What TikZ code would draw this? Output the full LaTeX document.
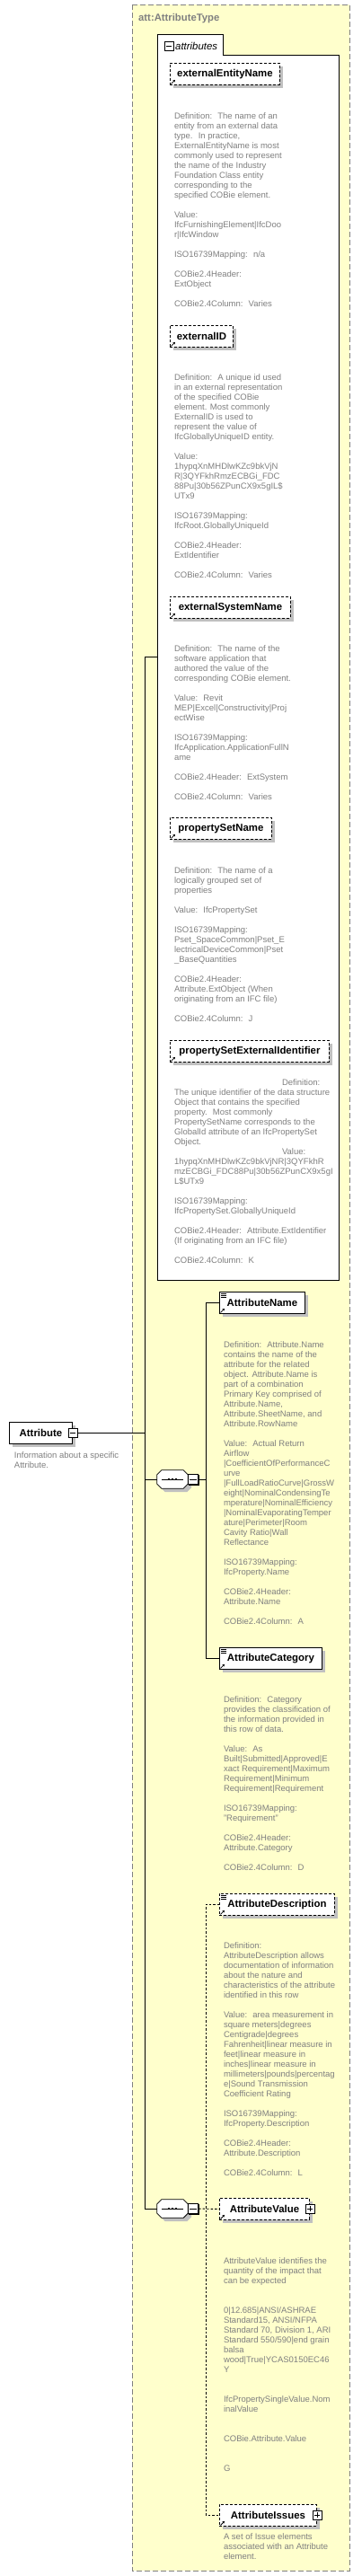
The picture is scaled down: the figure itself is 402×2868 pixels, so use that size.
\documentclass[tikz,border=0pt]{standalone}
\usepackage{fontspec}
\setmainfont{Liberation Sans}
\usetikzlibrary{shadows,arrows.meta}
\definecolor{bgyellow}{RGB}{255,255,204}
\definecolor{desccol}{RGB}{128,128,128}
\definecolor{shcol}{RGB}{192,192,192}
\definecolor{framecol}{RGB}{128,128,128}
\newcommand\dtext[1]{\begin{tabular}[t]{@{}l@{}}#1\end{tabular}}
\newcommand\descfont{\fontsize{9.5}{11}\selectfont}
\newcommand\elemfont{\fontsize{11.4}{13}\selectfont\bfseries}
\newcommand\refarrow[1]{\draw[line width=0.8pt,-{Stealth[length=2.5pt,width=2.8pt]}] ([xshift=1.5pt,yshift=1.5pt]#1.south west) -- ++(4.5,-4.5);}
\newcommand\listicon[1]{\foreach \k in {2,4,6} {\draw[line width=0.6pt] ([xshift=2pt,yshift=-\k pt]#1.north west) -- ++(5.5,0);}}
\newcommand\seqshape[1]{%
  \filldraw[fill=white,line width=0.8pt,drop shadow={shadow xshift=4pt,shadow yshift=-4pt,fill=shcol,opacity=1}]
    ([xshift=5pt]#1.north west) -- ([xshift=-5pt]#1.north east) -- ([yshift=-5pt]#1.north east) --
    ([yshift=5pt]#1.south east) -- ([xshift=-5pt]#1.south east) -- ([xshift=5pt]#1.south west) --
    ([yshift=5pt]#1.south west) -- ([yshift=-5pt]#1.north west) -- cycle;
  \draw[line width=0.8pt] ([xshift=-12pt]#1.center) -- ([xshift=12pt]#1.center);
  \foreach \dx in {-4,0,4} {\fill ([xshift=\dx pt]#1.center) +(-1.3,-1.3) rectangle +(1.3,1.3);}
}
\begin{document}
\begin{tikzpicture}[x=1pt,y=-1pt,
  desc/.style={anchor=base west,inner sep=0pt,outer sep=0pt,text=desccol,font=\descfont},
  elem/.style={draw,fill=white,line width=0.9pt,anchor=north west,minimum height=24pt,inner sep=0pt,font=\elemfont,
    drop shadow={shadow xshift=4pt,shadow yshift=-4pt,fill=shcol,opacity=1}},
  optelem/.style={elem,dash pattern=on 3pt off 2pt},
  pmbox/.style={draw,fill=white,line width=0.8pt,minimum size=10pt,inner sep=0pt,
    drop shadow={shadow xshift=1pt,shadow yshift=-1pt,fill=black,opacity=1}},
  minusbox/.style={pmbox,path picture={\draw[line width=0.8pt] ([xshift=2pt]path picture bounding box.west) -- ([xshift=-2pt]path picture bounding box.east);}},
  plusbox/.style={pmbox,path picture={\draw[line width=0.8pt] ([xshift=2pt]path picture bounding box.west) -- ([xshift=-2pt]path picture bounding box.east);
     \draw[line width=0.8pt] ([yshift=-2pt]path picture bounding box.north) -- ([yshift=2pt]path picture bounding box.south);}},
  seqnode/.style={inner sep=0pt,minimum width=34pt,minimum height=20pt},
  conn/.style={line width=0.9pt},
  dconn/.style={line width=0.9pt,dash pattern=on 2.5pt off 2pt}
]
\useasboundingbox (0,0) rectangle (402,2868);
\fill[white] (0,0) rectangle (402,2868);

% outer complex type box
\draw[framecol,line width=0.9pt,dash pattern=on 6pt off 3pt,fill=bgyellow] (147,5) rectangle (389,2862);
\node[anchor=base west,inner sep=0pt,text=framecol,font=\fontsize{11.3}{13}\selectfont\bfseries] (title) at (154,23) {att:AttributeType};

% attributes box
\draw[fill=white,line width=0.9pt] (175,38) -- (248,38) -- (248,61) -- (377,61) -- (377,1425) -- (175,1425) -- cycle;
\node[inner sep=0pt,minimum width=202pt,minimum height=1387pt,anchor=north west] (attrs) at (175,38) {};
\node[minusbox] (tabmin) at (188,51) {};
\node[anchor=base west,inner sep=0pt,font=\fontsize{11.4}{13}\selectfont\itshape] (tablabel) at (195,55) {attributes};

% attribute elements
\node[optelem,minimum width=122pt] (een) at (189,70) {externalEntityName};
\node[desc] (d-een) at (194,132) {\dtext{Definition:~ The name of an\\entity from an external data\\type.~ In practice,\\ExternalEntityName is most\\commonly used to represent\\the name of the Industry\\Foundation Class entity\\corresponding to the\\specified COBie element.\\\\Value:\\IfcFurnishingElement|IfcDoo\\r|IfcWindow\\\\ISO16739Mapping:~ n/a\\\\COBie2.4Header:\\ExtObject\\\\COBie2.4Column:~ Varies}};

\node[optelem,minimum width=70pt] (eid) at (189,362) {externalID};
\node[desc] (d-eid) at (194,423) {\dtext{Definition:~ A unique id used\\in an external representation\\of the specified COBie\\element. Most commonly\\ExternalID is used to\\represent the value of\\IfcGloballyUniqueID entity.\\\\Value:\\1hypqXnMHDlwKZc9bkVjN\\R|3QYFkhRmzECBGi\_FDC\\88Pu|30b56ZPunCX9x5gIL\$\\UTx9\\\\ISO16739Mapping:\\IfcRoot.GloballyUniqueId\\\\COBie2.4Header:\\ExtIdentifier\\\\COBie2.4Column:~ Varies}};

\node[optelem,minimum width=134pt] (esn) at (189,664) {externalSystemName};
\node[desc] (d-esn) at (194,725) {\dtext{Definition:~ The name of the\\software application that\\authored the value of the\\corresponding COBie element.\\\\Value:~ Revit\\MEP|Excel|Constructivity|Proj\\ectWise\\\\ISO16739Mapping:\\IfcApplication.ApplicationFullN\\ame\\\\COBie2.4Header:~ ExtSystem\\\\COBie2.4Column:~ Varies}};

\node[optelem,minimum width=113pt] (psn) at (189,910) {propertySetName};
\node[desc] (d-psn) at (194,972) {\dtext{Definition:~ The name of a\\logically grouped set of\\properties\\\\Value:~ IfcPropertySet\\\\ISO16739Mapping:\\Pset\_SpaceCommon|Pset\_E\\lectricalDeviceCommon|Pset\\\_BaseQuantities\\\\COBie2.4Header:\\Attribute.ExtObject (When\\originating from an IFC file)\\\\COBie2.4Column:~ J}};

\node[optelem,minimum width=177pt] (psei) at (189,1158) {propertySetExternalIdentifier};
\node[desc] (d-psei) at (194,1208) {\dtext{\hspace*{120pt}Definition:\\The unique identifier of the data structure\\Object that contains the specified\\property.~ Most commonly\\PropertySetName corresponds to the\\GlobalId attribute of an IfcPropertySet\\Object.\\\hspace*{120pt}Value:\\1hypqXnMHDlwKZc9bkVjNR|3QYFkhR\\mzECBGi\_FDC88Pu|30b56ZPunCX9x5gI\\L\$UTx9\\\\ISO16739Mapping:\\IfcPropertySet.GloballyUniqueId\\\\COBie2.4Header:~ Attribute.ExtIdentifier\\(If originating from an IFC file)\\\\COBie2.4Column:~ K}};

% left element
\node[elem,minimum width=70pt] (attr) at (10,1583) {Attribute};
\node[minusbox] (attrmin) at (attr.east) {};
\node[desc] (d-attr) at (16,1623) {\dtext{Information about a specific\\Attribute.}};

% sequences
\node[seqnode] (seq1) at (192,1647) {};
\seqshape{seq1}
\node[minusbox,minimum size=11.5pt] (seq1min) at (215,1647) {};
\node[seqnode] (seq2) at (192,2459) {};
\seqshape{seq2}
\node[minusbox,minimum size=11.5pt] (seq2min) at (215,2459) {};

% sequence children
\node[elem,minimum width=95pt] (aname) at (244,1438) {AttributeName};
\node[desc] (d-aname) at (249,1500) {\dtext{Definition:~ Attribute.Name\\contains the name of the\\attribute for the related\\object. Attribute.Name is\\part of a combination\\Primary Key comprised of\\Attribute.Name,\\Attribute.SheetName, and\\Attribute.RowName\\\\Value:~ Actual Return\\Airflow\\|CoefficientOfPerformanceC\\urve\\|FullLoadRatioCurve|GrossW\\eight|NominalCondensingTe\\mperature|NominalEfficiency\\|NominalEvaporatingTemper\\ature|Perimeter|Room\\Cavity Ratio|Wall\\Reflectance\\\\ISO16739Mapping:\\IfcProperty.Name\\\\COBie2.4Header:\\Attribute.Name\\\\COBie2.4Column:~ A}};

\node[elem,minimum width=114pt] (acat) at (244,1834) {AttributeCategory};
\node[desc] (d-acat) at (249,1895) {\dtext{Definition:~ Category\\provides the classification of\\the information provided in\\this row of data.\\\\Value:~ As\\Built|Submitted|Approved|E\\xact Requirement|Maximum\\Requirement|Minimum\\Requirement|Requirement\\\\ISO16739Mapping:\\"Requirement"\\\\COBie2.4Header:\\Attribute.Category\\\\COBie2.4Column:~ D}};

\node[optelem,minimum width=128pt] (adesc) at (244,2108) {AttributeDescription};
\node[desc] (d-adesc) at (249,2169) {\dtext{Definition:\\AttributeDescription allows\\documentation of information\\about the nature and\\characteristics of the attribute\\identified in this row\\\\Value:~ area measurement in\\square meters|degrees\\Centigrade|degrees\\Fahrenheit|linear measure in\\feet|linear measure in\\inches|linear measure in\\millimeters|pounds|percentag\\e|Sound Transmission\\Coefficient Rating\\\\ISO16739Mapping:\\IfcProperty.Description\\\\COBie2.4Header:\\Attribute.Description\\\\COBie2.4Column:~ L}};

\node[optelem,minimum width=100pt] (aval) at (244,2447) {AttributeValue};
\node[plusbox] (avalplus) at (aval.east) {};
\node[desc] (d-aval) at (249,2520) {\dtext{AttributeValue identifies the\\quantity of the impact that\\can be expected\\\\\\0|12.685|ANSI/ASHRAE\\Standard15, ANSI/NFPA\\Standard 70, Division 1, ARI\\Standard 550/590|end grain\\balsa\\wood|True|YCAS0150EC46\\Y\\\\\\IfcPropertySingleValue.Nom\\inalValue\\\\\\COBie.Attribute.Value\\\\\\G}};

\node[optelem,minimum width=108pt] (aiss) at (244,2788) {AttributeIssues};
\node[plusbox] (aissplus) at (aiss.east) {};
\node[desc] (d-aiss) at (249,2827) {\dtext{A set of Issue elements\\associated with an Attribute\\element.}};

% icons
\foreach \n in {een,eid,esn,psn,psei,aname,acat,adesc,aval,aiss} {\refarrow{\n}}
\foreach \n in {aname,acat,adesc} {\listicon{\n}}

% connectors
\coordinate (spX) at (161,0);
\coordinate (v1X) at (229,0);
\draw[conn] (attrs.west) -- (attrs.west -| spX) -- (seq2.west -| spX) -- (seq2.west);
\draw[conn] (attrmin.east) -- (attrmin.east -| spX);
\draw[conn] (seq1.west -| spX) -- (seq1.west);
\draw[conn] (seq1min.east) -- (seq1min.east -| v1X);
\draw[conn] (aname.west) -- (aname.west -| v1X) -- (acat.west -| v1X) -- (acat.west);
\draw[dconn] (seq2min.east) -- (aval.west);
\draw[dconn] (adesc.west) -- (adesc.west -| v1X) -- (aiss.west -| v1X) -- (aiss.west);
\end{tikzpicture}
\end{document}
